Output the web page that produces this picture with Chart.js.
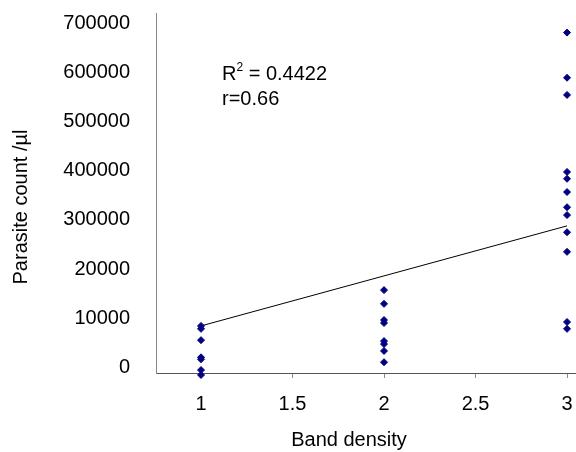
<!DOCTYPE html>
<html lang="en">
<head>
  <meta charset="UTF-8" />
  <title>Parasite count vs band density</title>
  <script src="https://cdn.jsdelivr.net/npm/chart.js"></script>
  <style>
    html, body { margin: 0; padding: 0; background: #fff; overflow: hidden; }
    canvas { display: block; }
  </style>
</head>
<body>
  <canvas id="grafico" width="576" height="452"></canvas>

  <script>
    // datos
    const densidades = [1, 2, 3];
    const conteoBanda1 = [84000, 78000, 55000, 20000, 16000, -6000, -16000];
    const conteoBanda2 = [157000, 129000, 96000, 90000, 53000, 47000, 33000, 10000];
    const conteoBanda3 = [682000, 590000, 555000, 398000, 384000, 357000, 326000, 310000, 275000, 235000, 92000, 78000];

    const tendenciaX = [1, 3];
    const tendenciaY = [84000, 288000];

    const ticksX = [1, 1.5, 2, 2.5, 3];
    const ticksY = [0, 100000, 200000, 300000, 400000, 500000, 600000, 700000];
    const etiquetasY = ['0', '10000', '20000', '300000', '400000', '500000', '600000', '700000'];

    const tituloX = 'Band density';
    const tituloY = 'Parasite count /\u00b5l';
    const textoR2 = ['R', '2', ' = 0.4422'];
    const textoR = 'r=0.66';

    const fuente = '"Liberation Sans", Arial, sans-serif';

    const grupos = [conteoBanda1, conteoBanda2, conteoBanda3];
    let puntos = [];
    grupos.forEach((g, i) => {
      g.forEach(v => puntos.push({ x: densidades[i], y: v }));
    });
    let linea = tendenciaX.map((x, i) => ({ x: x, y: tendenciaY[i] }));

    // sin relleno extra por las etiquetas de los extremos
    function sinRelleno(s) {
      s.paddingTop = 0;
      s.paddingBottom = 0;
      s.paddingLeft = 0;
      s.paddingRight = 0;
    }

    // titulos de ejes y texto del ajuste
    const textos = {
      id: 'textos',
      afterDraw(chart) {
        let ctx = chart.ctx;
        ctx.save();
        ctx.fillStyle = '#000';
        ctx.textBaseline = 'alphabetic';

        ctx.font = '20px ' + fuente;
        ctx.textAlign = 'center';
        ctx.fillText(tituloX, 349, 446);

        ctx.save();
        ctx.translate(27, 207);
        ctx.rotate(-Math.PI / 2);
        ctx.fillText(tituloY, 0, 0);
        ctx.restore();

        ctx.textAlign = 'left';
        let x = 222;
        ctx.font = '20px ' + fuente;
        ctx.fillText(textoR2[0], x, 80);
        x += ctx.measureText(textoR2[0]).width;
        ctx.font = '12px ' + fuente;
        ctx.fillText(textoR2[1], x, 71);
        x += ctx.measureText(textoR2[1]).width;
        ctx.font = '20px ' + fuente;
        ctx.fillText(textoR2[2], x, 80);
        ctx.fillText(textoR, 222, 105);
        ctx.restore();
      }
    };

    let ctx = document.getElementById('grafico').getContext('2d');
    let grafico = new Chart(ctx, {
      type: 'scatter',
      data: {
        datasets: [
          {
            data: puntos,
            pointStyle: 'rectRot',
            pointRadius: 3.5,
            pointBorderWidth: 1,
            backgroundColor: '#000080',
            borderColor: '#000080',
            clip: false
          },
          {
            type: 'line',
            data: linea,
            borderColor: '#000',
            borderWidth: 1,
            pointRadius: 0,
            fill: false
          }
        ]
      },
      options: {
        responsive: false,
        animation: false,
        layout: { autoPadding: false, padding: { left: 0, right: 0, top: 13, bottom: 0 } },
        plugins: {
          legend: { display: false },
          tooltip: { enabled: false }
        },
        scales: {
          x: {
            type: 'linear',
            min: 0.754,
            max: 3.049,
            afterBuildTicks: s => { s.ticks = ticksX.map(v => ({ value: v })); },
            afterFit: s => { s.height = 79; sinRelleno(s); },
            ticks: {
              color: '#000',
              font: { family: fuente, size: 20 },
              padding: 14,
              maxRotation: 0,
              callback: v => String(v)
            },
            grid: {
              display: true,
              drawOnChartArea: false,
              drawTicks: true,
              tickLength: 5,
              color: '#888'
            },
            border: { color: '#555', width: 1 }
          },
          y: {
            type: 'linear',
            min: -12000,
            max: 722000,
            afterBuildTicks: s => { s.ticks = ticksY.map(v => ({ value: v })); },
            afterFit: s => { s.width = 156; sinRelleno(s); },
            ticks: {
              color: '#000',
              font: { family: fuente, size: 20 },
              padding: 26,
              callback: (v, i) => etiquetasY[i]
            },
            grid: { display: false, drawTicks: false, tickLength: 0 },
            border: { color: '#888', width: 1 }
          }
        }
      },
      plugins: [textos]
    });
  </script>
</body>
</html>
